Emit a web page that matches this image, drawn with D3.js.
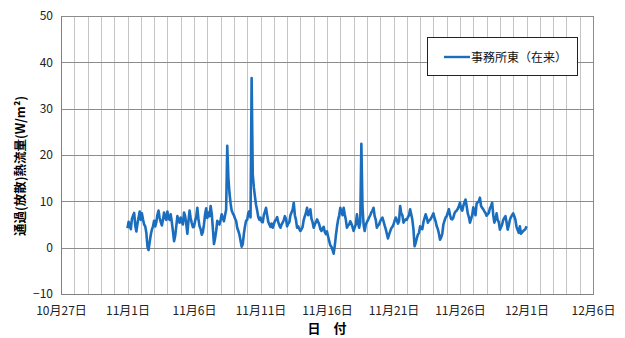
<!DOCTYPE html>
<html><head><meta charset="utf-8">
<script src="https://cdn.jsdelivr.net/npm/d3@7"></script>
<style>body{margin:0;background:#fff;} svg{display:block;}</style>
</head><body>
<svg id="c" width="625" height="338"></svg>
<script>
// ---- data (2-hourly readings, W/m2) ----
const seriesName = "事務所東（在来）";
const startDate = new Date(2000, 10, 1, 0); // Nov 1 00:00
const stepHours = 2;
const nov01 = [4.2, 5.6, 4.8, 4.0, 6.2, 6.9, 7.5, 4.8, 3.5, 5.2, 6.5, 7.8];
const nov02 = [6.0, 7.4, 6.1, 5.0, 4.6, 3.2, 0.2, -0.5, 1.2, 2.8, 3.9, 4.6];
const nov03 = [5.8, 4.6, 5.5, 7.1, 8.0, 6.4, 5.5, 4.8, 6.0, 7.6, 6.5, 6.0];
const nov04 = [7.8, 6.4, 6.0, 7.2, 5.5, 3.5, 1.4, 2.5, 4.6, 6.8, 6.0, 5.4];
const nov05 = [6.5, 5.5, 5.0, 7.6, 6.8, 5.2, 3.0, 5.8, 8.0, 6.4, 5.3, 4.4];
const nov06 = [4.5, 5.8, 6.6, 8.6, 6.2, 4.6, 4.0, 2.8, 3.4, 5.0, 7.2, 8.5];
const nov07 = [6.4, 7.6, 6.8, 9.0, 7.4, 4.2, 0.8, 2.0, 3.6, 5.8, 5.3, 5.0];
const nov08 = [6.0, 7.2, 6.4, 5.7, 7.0, 8.2, 22.0, 15.2, 11.8, 9.6, 8.0, 7.4];
const nov09 = [7.0, 6.3, 5.8, 4.3, 3.6, 2.8, 1.5, 0.2, 0.8, 3.0, 4.6, 5.8];
const nov10 = [6.0, 7.5, 7.9, 6.5, 36.6, 15.8, 13.0, 11.0, 9.2, 8.0, 6.6, 6.0];
const nov11 = [6.5, 5.6, 5.5, 7.0, 7.8, 8.6, 7.0, 5.6, 5.0, 4.5, 5.2, 4.3];
const nov12 = [5.0, 5.8, 6.0, 6.6, 5.5, 4.8, 4.3, 5.0, 5.4, 6.0, 6.8, 6.2];
const nov13 = [4.6, 5.2, 5.5, 7.0, 7.6, 8.2, 9.7, 7.0, 6.0, 4.3, 4.6, 4.0];
const nov14 = [3.6, 4.0, 4.5, 6.0, 6.8, 7.5, 8.6, 7.0, 7.4, 8.3, 6.2, 5.5];
const nov15 = [4.3, 5.0, 5.5, 6.1, 5.6, 5.0, 4.0, 3.6, 4.2, 4.5, 3.4, 2.9];
const nov16 = [3.5, 2.4, 1.4, 0.5, 0.2, -0.5, -1.3, 0.4, 2.6, 4.5, 6.0, 7.0];
const nov17 = [8.6, 7.8, 7.0, 8.6, 7.2, 6.0, 4.3, 4.8, 5.0, 5.7, 5.2, 4.5];
const nov18 = [3.6, 4.4, 5.0, 7.2, 5.4, 4.3, 5.5, 22.4, 9.0, 5.0, 3.6, 5.0];
const nov19 = [5.5, 6.0, 6.5, 7.0, 7.6, 8.0, 8.6, 6.8, 6.0, 4.3, 4.8, 5.0];
const nov20 = [5.7, 6.2, 6.5, 5.7, 4.8, 4.0, 3.0, 2.0, 2.8, 3.5, 4.2, 4.5];
const nov21 = [5.0, 5.8, 6.5, 6.0, 5.2, 5.7, 9.0, 7.4, 7.0, 5.4, 5.8, 6.1];
const nov22 = [6.0, 6.6, 7.0, 8.3, 7.2, 6.0, 4.0, 0.3, 1.0, 2.0, 2.8, 3.2];
const nov23 = [4.6, 4.2, 4.0, 5.5, 6.4, 7.2, 6.5, 5.4, 5.8, 6.0, 6.4, 6.9];
const nov24 = [7.4, 6.4, 5.7, 4.6, 4.0, 3.0, 1.7, 2.2, 3.0, 5.0, 5.8, 6.5];
const nov25 = [6.8, 7.6, 8.3, 7.0, 6.2, 6.1, 6.5, 7.4, 7.8, 8.0, 8.4, 9.0];
const nov26 = [9.7, 8.4, 8.0, 9.0, 9.8, 10.4, 9.0, 7.4, 6.6, 5.4, 6.2, 7.0];
const nov27 = [8.7, 7.6, 7.0, 9.5, 9.8, 10.0, 10.8, 9.0, 8.6, 8.3, 7.8, 7.5];
const nov28 = [6.9, 7.2, 7.5, 8.5, 9.0, 9.7, 7.0, 5.4, 6.2, 7.4, 6.0, 5.5];
const nov29 = [3.9, 4.4, 5.0, 6.0, 6.4, 6.8, 5.5, 3.9, 4.8, 6.0, 6.6, 7.0];
const nov30 = [7.4, 6.8, 6.0, 4.5, 3.8, 3.2, 4.6, 3.0, 3.3, 3.6, 3.8, 4.0];
const dec01 = [4.6];
const values = [].concat(nov01,nov02,nov03,nov04,nov05,nov06,nov07,nov08,nov09,nov10,
  nov11,nov12,nov13,nov14,nov15,nov16,nov17,nov18,nov19,nov20,
  nov21,nov22,nov23,nov24,nov25,nov26,nov27,nov28,nov29,nov30,dec01);
const yTicks = [-10, 0, 10, 20, 30, 40, 50];
const xTickDates = [[9,27],[10,1],[10,6],[10,11],[10,16],[10,21],[10,26],[11,1],[11,6]];
const xTickLabels = ["10月27日","11月1日","11月6日","11月11日","11月16日","11月21日","11月26日","12月1日","12月6日"];
const yTitle = "通過(放散)熱流量(W/m²)";
const xTitle = "日　付";

// ---- chart ----
const svg = d3.select("#c");
const L = 61, R = 593, T = 16, B = 294;
const x = d3.scaleTime().domain([new Date(2000,9,27), new Date(2000,11,6)]).range([L, R]);
const y = d3.scaleLinear().domain([-10, 50]).range([B, T]);
const font = "'Noto Sans CJK JP','Noto Sans',sans-serif";

// daily vertical gridlines
const days = d3.timeDay.range(new Date(2000,9,27), d3.timeDay.offset(new Date(2000,11,6),1));
svg.append("g").selectAll("line").data(days).join("line")
  .attr("x1", d => Math.round(x(d))+0.5).attr("x2", d => Math.round(x(d))+0.5)
  .attr("y1", T).attr("y2", B).attr("stroke", "#c4c4c4").attr("stroke-width", 1);
// horizontal gridlines
svg.append("g").selectAll("line").data(yTicks).join("line")
  .attr("x1", L).attr("x2", R)
  .attr("y1", d => Math.round(y(d))+0.5).attr("y2", d => Math.round(y(d))+0.5)
  .attr("stroke", "#8c8c8c").attr("stroke-width", 1);
// frame
svg.append("rect").attr("x", L+0.5).attr("y", T+0.5).attr("width", R-L).attr("height", B-T)
  .attr("fill", "none").attr("stroke", "#8c8c8c");

// axes
const yAxis = d3.axisLeft(y).tickValues(yTicks).tickSize(0).tickPadding(8);
const gy = svg.append("g").attr("transform", `translate(${L},0)`).call(yAxis);
gy.select(".domain").attr("stroke", "#808080");
gy.selectAll("text").attr("font-family", font).attr("font-size", 12).attr("fill", "#222");

const xDates = xTickDates.map(([m,d]) => new Date(2000, m, d));
const xAxis = d3.axisBottom(x).tickValues(xDates).tickSize(0).tickPadding(12)
  .tickFormat((d,i) => xTickLabels[i]);
const gx = svg.append("g").attr("transform", `translate(0,${B})`).call(xAxis);
gx.select(".domain").attr("stroke", "#808080");
gx.selectAll("text").attr("font-family", font).attr("font-size", 12).attr("fill", "#222");

// series
const data = values.map((v, i) => ({t: d3.timeHour.offset(startDate, i*stepHours), v}));
svg.append("path").datum(data)
  .attr("fill", "none").attr("stroke", "#1b6ebd").attr("stroke-width", 2.6)
  .attr("stroke-linejoin", "round")
  .attr("d", d3.line().x(d => x(d.t)).y(d => y(d.v)));

// titles
svg.append("text").attr("x", 327).attr("y", 333).attr("text-anchor", "middle")
  .attr("font-family", font).attr("font-weight", "bold").attr("font-size", 13).text(xTitle);
svg.append("text").attr("transform", "translate(25,166) rotate(-90)").attr("text-anchor", "middle")
  .attr("font-family", font).attr("font-weight", "bold").attr("font-size", 12.5).text(yTitle);

// legend
const lg = svg.append("g");
lg.append("rect").attr("x", 427.5).attr("y", 37.5).attr("width", 150).attr("height", 38)
  .attr("fill", "#fff").attr("stroke", "#222");
lg.append("line").attr("x1", 444).attr("x2", 470).attr("y1", 57).attr("y2", 57)
  .attr("stroke", "#1b6ebd").attr("stroke-width", 2.4);
lg.append("text").attr("x", 471).attr("y", 61.5).attr("font-family", font).attr("font-size", 12)
  .attr("fill", "#111").text(seriesName);
</script>
</body></html>
